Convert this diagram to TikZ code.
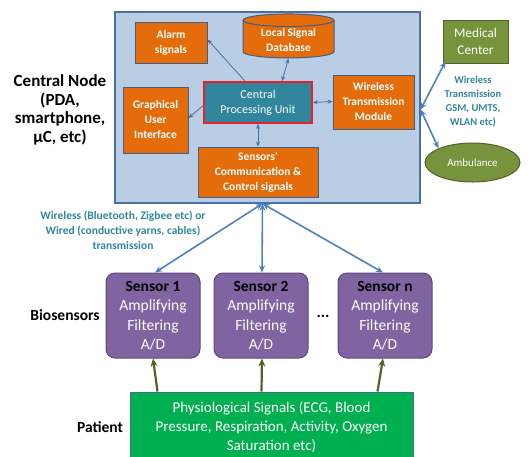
\documentclass[tikz,border=0pt]{standalone}
\usepackage{fontspec}
\setmainfont{Carlito}
\usetikzlibrary{
    shapes.geometric,
    arrows.meta,
    positioning,
    calc
}
\definecolor{hubfill}{HTML}{B9CDE5}
\definecolor{hubline}{HTML}{4A6FA5}
\definecolor{unitfill}{HTML}{E46C0A}
\definecolor{unitline}{HTML}{3F5F8A}
\definecolor{cpufill}{HTML}{31859C}
\definecolor{cpuline}{HTML}{E8202A}
\definecolor{remote}{HTML}{77933C}
\definecolor{remoteline}{HTML}{4F6228}
\definecolor{sensor}{HTML}{8064A2}
\definecolor{sensorline}{HTML}{5F497A}
\definecolor{patient}{HTML}{00B050}
\definecolor{patientline}{HTML}{3F6F8A}
\definecolor{note}{HTML}{31859C}
\definecolor{linkblue}{HTML}{4F81BD}
\definecolor{signal}{HTML}{4F6228}
\tikzset{
    % Central node container
    hub/.style={
        rectangle,
        draw=hubline,
        fill=hubfill,
        line width=1.2pt,
        minimum width=305pt,
        minimum height=191pt
    },
    % Orange unit inside the central node
    unit/.style={
        rectangle,
        draw=unitline,
        fill=unitfill,
        line width=1pt,
        align=center,
        inner sep=1pt,
        text=white,
        font=\fontsize{11.5}{15}\selectfont\bfseries
    },
    % Remote side (medical center, ambulance)
    remote box/.style={
        draw=remoteline,
        fill=remote,
        line width=1pt,
        align=center,
        inner sep=1pt,
        text=white
    },
    % Sensor style
    sensor box/.style={
        rectangle,
        rounded corners=9pt,
        draw=sensorline,
        fill=sensor,
        line width=1pt,
        align=center,
        text=white,
        minimum width=94pt,
        minimum height=85pt,
        font=\fontsize{15.5}{19.5}\selectfont
    },
    % Side label style
    side label/.style={
        align=center,
        text=black,
        font=\fontsize{15.5}{18.5}\selectfont\bfseries
    },
    % Transmission notes
    note text/.style={
        align=center,
        text=note,
        font=\fontsize{11.5}{15}\selectfont\bfseries
    },
    % Arrow styles
    link/.style={
        {Stealth[length=7pt,width=6pt]}-{Stealth[length=7pt,width=6pt]},
        line width=1.6pt,
        draw=linkblue
    },
    inner link/.style={
        line width=0.8pt,
        draw=hubline
    },
    signal flow/.style={
        -{Stealth[length=8pt,width=7pt]},
        line width=2.2pt,
        draw=signal
    }
}
\begin{document}
\begin{tikzpicture}[x=1pt, y=-1pt]
    \useasboundingbox (0,0) rectangle (530,456);

    % Central node
    \node[hub] (cnode) at (267.5, 107.5) {};
    \node[side label, font=\fontsize{17}{18.5}\selectfont\bfseries] (cnlabel) at (60, 110) {Central Node\\(PDA,\\smartphone,\\µC, etc)};

    \node[unit, minimum width=72pt, minimum height=41pt] (alarm) at (171, 42.5) {Alarm\\signals};
    \node[unit, cylinder, shape border rotate=90, aspect=0.22, minimum width=91pt, minimum height=44pt] (db) at (288.5, 40) {Local Signal\\Database};
    \node[unit, minimum width=65pt, minimum height=66pt] (gui) at (155.5, 120) {Graphical\\User\\Interface};
    \node[rectangle, draw=cpuline, fill=cpufill, line width=1.6pt, align=center, text=white,
          font=\fontsize{12}{15}\selectfont, minimum width=108pt, minimum height=41pt] (cpu) at (258, 102.5) {Central\\Processing Unit};
    \node[unit, minimum width=81pt, minimum height=54pt] (wtm) at (373.5, 102) {Wireless\\Transmission\\Module};
    \node[unit, minimum width=120pt, minimum height=50pt] (scc) at (258, 172) {Sensors'\\Communication \&\\Control signals};

    \draw[inner link, -{Stealth[length=5pt,width=4pt]}] ([xshift=-13pt]cpu.north) -- ([yshift=3pt]alarm.east);
    \draw[inner link, {Stealth[length=5pt,width=4pt]}-{Stealth[length=5pt,width=4pt]}] ([xshift=24pt]cpu.north) -- (db.south);
    \draw[inner link, -{Stealth[length=5pt,width=4pt]}] ([yshift=-3pt]cpu.west) -- ([yshift=2pt]gui.east);
    \draw[inner link, {Stealth[length=5pt,width=4pt]}-{Stealth[length=5pt,width=4pt]}] (cpu.east) -- ([yshift=0.5pt]wtm.west);
    \draw[inner link, {Stealth[length=5pt,width=4pt]}-{Stealth[length=5pt,width=4pt]}] (cpu.south) -- (scc.north);

    % Remote side
    \node[remote box, rectangle, minimum width=65pt, minimum height=43pt,
          font=\fontsize{13.3}{16.5}\selectfont] (medical) at (475.5, 41.5) {Medical\\Center};
    \node[remote box, ellipse, minimum width=95pt, minimum height=39pt,
          font=\fontsize{11}{13}\selectfont] (ambulance) at (472.5, 162.5) {Ambulance};
    \node[note text, font=\fontsize{10.5}{14}\selectfont\bfseries] (wlan) at (473, 102) {Wireless\\Transmission\\GSM, UMTS,\\WLAN etc)};

    \coordinate (cnout) at ([yshift=-2pt]cnode.east);
    \draw[link] (cnout) -- ([xshift=3pt,yshift=2pt]medical.south west);
    \draw[link] (cnout) -- (ambulance.north west);

    % Biosensors
    \node[sensor box] (sensA) at (153, 315.5) {{\color{black}\bfseries Sensor 1}\\Amplifying\\Filtering\\A/D};
    \node[sensor box] (sensB) at (261, 315.5) {{\color{black}\bfseries Sensor 2}\\Amplifying\\Filtering\\A/D};
    \node[sensor box] (sensN) at (385, 315.5) {{\color{black}\bfseries Sensor n}\\Amplifying\\Filtering\\A/D};
    \node[font=\fontsize{16}{18}\selectfont\bfseries] (dots) at (323, 316) {...};
    \node[side label] (biolabel) at (65, 315) {Biosensors};

    \coordinate (cnin) at ([xshift=-5pt]cnode.south);
    \draw[link] (cnin) -- ([xshift=2pt]sensA.north);
    \draw[link] (cnin) -- ([xshift=1pt]sensB.north);
    \draw[link] (cnin) -- ([xshift=-2pt]sensN.north);
    \node[note text] (wired) at (123, 230) {Wireless (Bluetooth, Zigbee etc) or\\Wired (conductive yarns, cables)\\transmission};

    % Patient
    \node[rectangle, draw=patientline, fill=patient, line width=1pt, align=center, text=white,
          minimum width=283pt, minimum height=70pt, font=\fontsize{15}{19}\selectfont] (pat) at (271.5, 427)
          {Physiological Signals (ECG, Blood\\Pressure, Respiration, Activity, Oxygen\\Saturation etc)};
    \node[side label] (patlabel) at (100, 427) {Patient};

    \draw[signal flow] ($(pat.north west)+(28,0)$) -- (sensA.south);
    \draw[signal flow] ($(pat.north west)+(132,0)$) -- ([xshift=1pt]sensB.south);
    \draw[signal flow] ($(pat.north east)+(-36,0)$) -- ([xshift=-2pt]sensN.south);
\end{tikzpicture}
\end{document}
